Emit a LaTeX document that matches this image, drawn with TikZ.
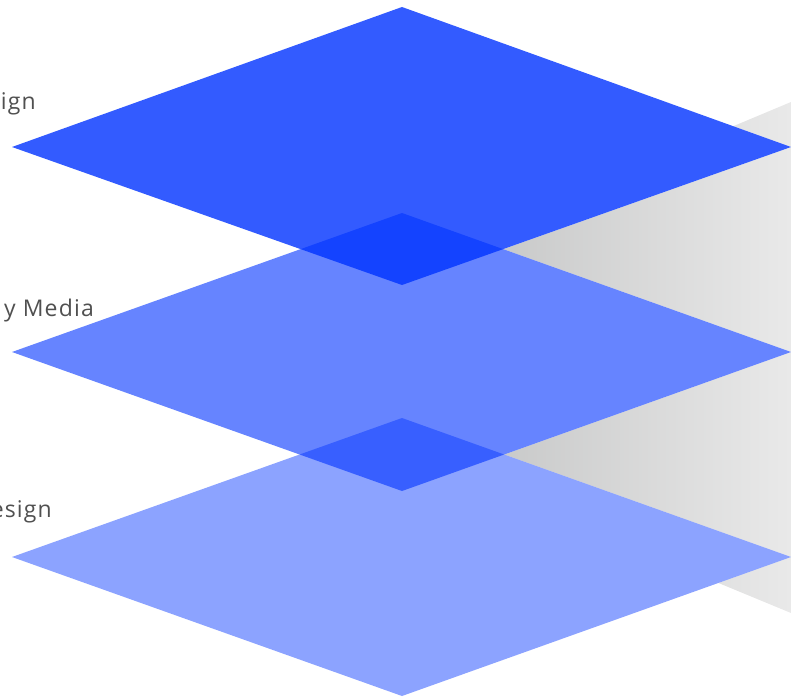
\documentclass[tikz,border=0pt]{standalone}
\usepackage{fontspec}
\setmainfont[LetterSpace=5]{Open Sans}
\definecolor{layerblue}{RGB}{0,51,255}
\definecolor{labelgrey}{RGB}{80,80,80}
\definecolor{shadowdark}{RGB}{190,191,191}
\definecolor{shadowlight}{RGB}{233,233,233}

\begin{document}
\begin{tikzpicture}[
    x=1pt, y=-1pt,
    layer/.style={fill=layerblue, fill opacity=#1},
    shadow/.style={left color=shadowdark, right color=shadowlight},
    lbl/.style={anchor=base east, inner sep=0pt, text=labelgrey, font=\fontsize{23}{27}\selectfont}
]
\useasboundingbox (0,0) rectangle (791,700);

% Back: grey shadow
\coordinate (sa) at (402,265);
\coordinate (sb) at (791,102);
\coordinate (sc) at (791,613);
\coordinate (sd) at (402,452);
\shade[shadow] (sa) -- (sb) -- (sc) -- (sd) -- cycle;

% Layer corners
\coordinate (ct) at (402,418);
\coordinate (cr) at (791,557);
\coordinate (cb) at (402,696);
\coordinate (cl) at (12,557);
\coordinate (bt) at (402,213);
\coordinate (br) at (791,352);
\coordinate (bb) at (402,491);
\coordinate (bl) at (12,352);
\coordinate (at) at (402,7);
\coordinate (ar) at (791,147);
\coordinate (ab) at (402,285);
\coordinate (al) at (12,147);

% White knockout under the layers
\fill[white] (ct) -- (cr) -- (cb) -- (cl) -- cycle;
\fill[white] (bt) -- (br) -- (bb) -- (bl) -- cycle;
\fill[white] (at) -- (ar) -- (ab) -- (al) -- cycle;

% Bottom, middle, top layers
\fill[layer=0.45] (ct) -- (cr) -- (cb) -- (cl) -- cycle;
\fill[layer=0.6] (bt) -- (br) -- (bb) -- (bl) -- cycle;
\fill[layer=0.8] (at) -- (ar) -- (ab) -- (al) -- cycle;

% Left: labels
\node[lbl] (lbltop) at (36,110) {ign};
\node[lbl] (lblmid) at (94,316) {y Media};
\node[lbl] (lblbot) at (52,517) {esign};

\end{tikzpicture}
\end{document}
